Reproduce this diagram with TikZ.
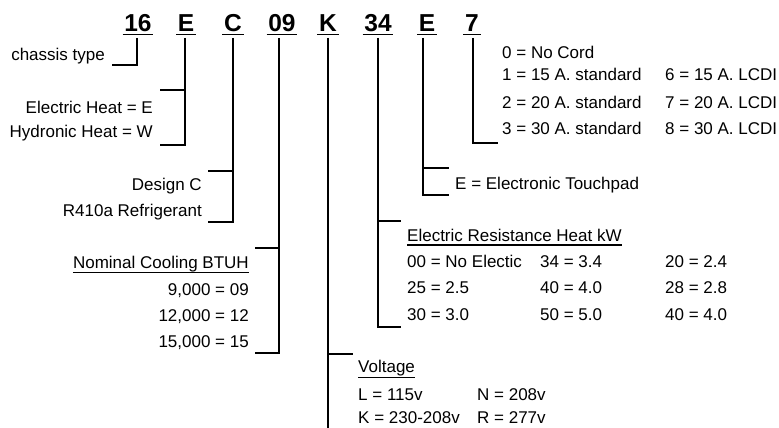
\documentclass[tikz,border=0pt]{standalone}
\usepackage{fontspec}
\setmainfont{Liberation Sans}
\begin{document}
\begin{tikzpicture}[x=1pt,y=-1pt,
  code/.style={font=\fontsize{24.5}{26}\selectfont\bfseries, anchor=base, inner xsep=1.5pt, inner ysep=0pt},
  lbl/.style={font=\fontsize{17}{19}\selectfont, inner sep=0pt},
  lr/.style={lbl, anchor=base east},
  ll/.style={lbl, anchor=base west},
  conn/.style={line width=2.4pt},
  ul/.style={line width=1.8pt}]
\useasboundingbox (0,0) rectangle (779,428);
% ---- code letters
\node[code] (c16) at (138,32) {16};
\node[code] (cE)  at (186,32) {E};
\node[code] (cC)  at (233,32) {C};
\node[code] (c09) at (282,32) {09};
\node[code] (cK)  at (328,32) {K};
\node[code] (c34) at (378,32) {34};
\node[code] (cE2) at (427,32) {E};
\node[code] (c7)  at (472,32) {7};
\foreach \n in {c16,cE,cC,c09,cK,c34,cE2,c7}
  \draw[ul] ([yshift=-2.5pt]\n.base west) -- ([yshift=-2.5pt]\n.base east);
% ---- labels
\node[lr] (chassis) at (105,60) {chassis type};
\node[lr] (eheat) at (153,113) {Electric Heat = E};
\node[lr] (hheat) at (153,137) {Hydronic Heat = W};
\node[lr] (design) at (202,190) {Design C};
\node[lr] (refr) at (202,216) {R410a Refrigerant};
\node[lr] (nomc) at (249,268) {Nominal Cooling BTUH};
\draw[ul] ([yshift=-4.5pt]nomc.base west) -- ([yshift=-4.5pt]nomc.base east);
\node[lr] (n09) at (249,295) {9,000 = 09};
\node[lr] (n12) at (249,321) {12,000 = 12};
\node[lr] (n15) at (249,347) {15,000 = 15};
\node[ll] (volt) at (358,372) {Voltage};
\draw[ul] ([yshift=-5.5pt]volt.base west) -- ([yshift=-5.5pt]volt.base east);
\node[ll] (vL) at (358,400) {L = 115v};
\node[ll] (vK) at (358,423) {K = 230-208v};
\node[ll] (vN) at (477,400) {N = 208v};
\node[ll] (vR) at (477,423) {R = 277v};
\node[ll] (erh) at (407,241) {Electric Resistance Heat kW};
\draw[ul] ([yshift=-4pt]erh.base west) -- ([yshift=-4pt]erh.base east);
\node[ll] (h00) at (407,267) {00 = No Electic};
\node[ll] (h25) at (407,293) {25 = 2.5};
\node[ll] (h30) at (407,320) {30 = 3.0};
\node[ll] (h34) at (540,267) {34 = 3.4};
\node[ll] (h40) at (540,293) {40 = 4.0};
\node[ll] (h50) at (540,320) {50 = 5.0};
\node[ll] (h20) at (665,267) {20 = 2.4};
\node[ll] (h28) at (665,293) {28 = 2.8};
\node[ll] (h40b) at (665,320) {40 = 4.0};
\node[ll] (touch) at (455,189) {E = Electronic Touchpad};
\node[ll] (cord0) at (502,59) {0 = No Cord};
\node[ll] (cord1) at (502,81) {1 = 15 A. standard};
\node[ll] (cord2) at (502,108) {2 = 20 A. standard};
\node[ll] (cord3) at (502,134) {3 = 30 A. standard};
\node[ll] (cord6) at (665,81) {6 = 15 A. LCDI};
\node[ll] (cord7) at (665,108) {7 = 20 A. LCDI};
\node[ll] (cord8) at (665,134) {8 = 30 A. LCDI};
% ---- connector points
\coordinate (t16) at (137,38);  \coordinate (b16) at (137,65);  \coordinate (e16) at (112,65);
\coordinate (tE) at (185,38);   \coordinate (mE) at (185,90);   \coordinate (bE) at (185,145);
\coordinate (eEa) at (160,90);  \coordinate (eEb) at (160,145);
\coordinate (tC) at (233,38);   \coordinate (mC) at (233,171);  \coordinate (bC) at (233,222);
\coordinate (eCa) at (208,171); \coordinate (eCb) at (208,222);
\coordinate (t09) at (279,38);  \coordinate (m09) at (279,248); \coordinate (b09) at (279,353);
\coordinate (e09a) at (255,248); \coordinate (e09b) at (255,353);
\coordinate (tK) at (328,38);   \coordinate (mK) at (328,354);  \coordinate (bK) at (328,430);
\coordinate (eK) at (353,354);
\coordinate (t34) at (378,38);  \coordinate (m34) at (378,221); \coordinate (b34) at (378,327);
\coordinate (e34a) at (401,221); \coordinate (e34b) at (401,327);
\coordinate (tE2) at (423,38);  \coordinate (mE2) at (423,168); \coordinate (bE2) at (423,195);
\coordinate (eE2a) at (449,168); \coordinate (eE2b) at (449,195);
\coordinate (t7) at (473,38);   \coordinate (b7) at (473,143);  \coordinate (e7) at (498,143);
% ---- connectors
\draw[conn] (t16) -- (b16) -- (e16);
\draw[conn] (tE) -- (bE) -- (eEb);  \draw[conn] (mE) -- (eEa);
\draw[conn] (tC) -- (bC) -- (eCb);  \draw[conn] (mC) -- (eCa);
\draw[conn] (t09) -- (b09) -- (e09b); \draw[conn] (m09) -- (e09a);
\draw[conn] (tK) -- (bK);  \draw[conn] (mK) -- (eK);
\draw[conn] (t34) -- (b34) -- (e34b); \draw[conn] (m34) -- (e34a);
\draw[conn] (tE2) -- (bE2) -- (eE2b); \draw[conn] (mE2) -- (eE2a);
\draw[conn] (t7) -- (b7) -- (e7);
\end{tikzpicture}
\end{document}
